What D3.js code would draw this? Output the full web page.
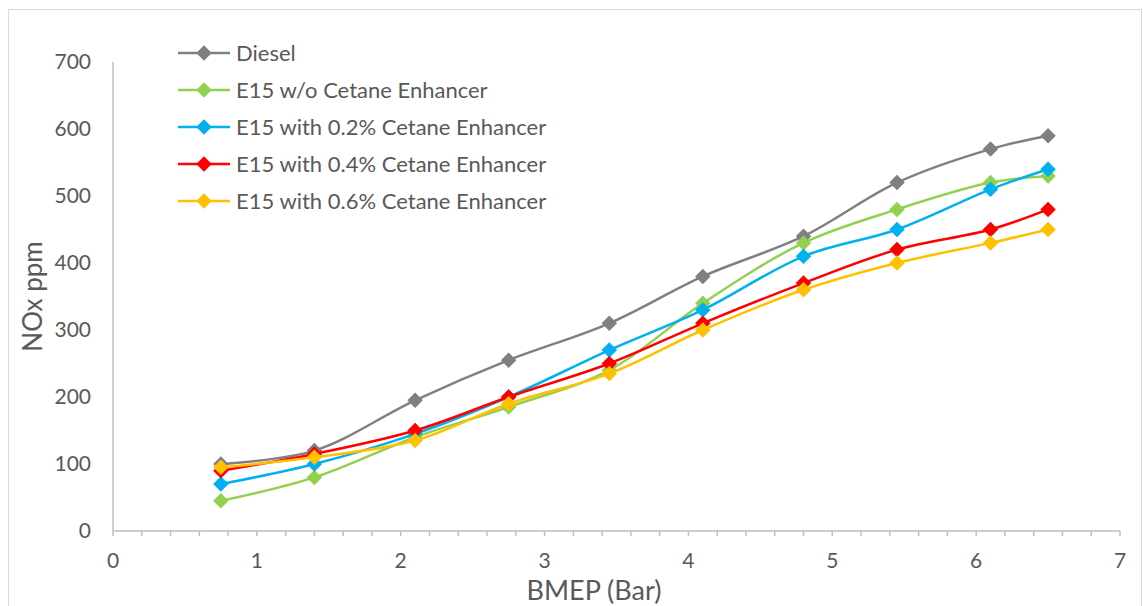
<!DOCTYPE html>
<html>
<head>
<meta charset="utf-8">
<script src="https://cdn.jsdelivr.net/npm/d3@7"></script>
<style>
  body { margin: 0; background: #fff; }
  text { font-family: Lato, "Liberation Sans", sans-serif; fill: #595959; }
</style>
</head>
<body>
<div id="chart"></div>
<script>
var bmep = [0.75, 1.4, 2.1, 2.75, 3.45, 4.1, 4.8, 5.45, 6.1, 6.5];
var diesel = [100, 120, 195, 255, 310, 380, 440, 520, 570, 590];
var e15Plain = [45, 80, 140, 185, 240, 340, 430, 480, 520, 530];
var e15Ce02 = [70, 100, 145, 200, 270, 330, 410, 450, 510, 540];
var e15Ce04 = [90, 115, 150, 200, 250, 310, 370, 420, 450, 480];
var e15Ce06 = [95, 110, 135, 190, 235, 300, 360, 400, 430, 450];
var seriesNames = ["Diesel", "E15 w/o Cetane Enhancer", "E15 with 0.2% Cetane Enhancer",
  "E15 with 0.4% Cetane Enhancer", "E15 with 0.6% Cetane Enhancer"];
var colors = ["#808080", "#92D050", "#00B0F0", "#FF0000", "#FFC000"];
var xTicks = [0, 1, 2, 3, 4, 5, 6, 7];
var yTicks = [0, 100, 200, 300, 400, 500, 600, 700];

var series = [diesel, e15Plain, e15Ce02, e15Ce04, e15Ce06].map((vals, i) => ({
  name: seriesNames[i],
  color: colors[i],
  values: vals.map((v, j) => ({ x: bmep[j], y: v }))
}));

var W = 1143, H = 606;
var margin = { top: 62, right: 23, bottom: 75, left: 113 };
var width = W - margin.left - margin.right;
var height = H - margin.top - margin.bottom;

var svg = d3.select("#chart").append("svg")
  .attr("width", W)
  .attr("height", H);

// chart frame
svg.append("rect")
  .attr("x", 8.5).attr("y", 9.5)
  .attr("width", W - 10).attr("height", H)
  .attr("fill", "none").attr("stroke", "#D9D9D9").attr("stroke-width", 1);

var g = svg.append("g")
  .attr("transform", "translate(" + margin.left + "," + margin.top + ")");

var xScale = d3.scaleLinear().domain([0, 7]).range([0, width]);
var yScale = d3.scaleLinear().domain([0, 700]).range([height, 0]);

// y axis line + labels
g.append("line")
  .attr("x1", 0).attr("x2", 0).attr("y1", 0).attr("y2", height)
  .attr("stroke", "#BFBFBF").attr("stroke-width", 1.5);
g.selectAll(".ylab").data(yTicks).enter().append("text")
  .attr("class", "ylab")
  .attr("x", -22)
  .attr("y", d => yScale(d))
  .attr("dy", "0.35em")
  .attr("text-anchor", "end")
  .style("font-size", "21px")
  .text(d => d);

// x axis with minor ticks
var xAxis = g.append("g")
  .attr("transform", "translate(0," + height + ")");
xAxis.append("line")
  .attr("x1", 0).attr("x2", width)
  .attr("stroke", "#BFBFBF").attr("stroke-width", 1.5);
xAxis.selectAll(".tick").data(d3.range(0, 36).map(i => i * 0.2)).enter().append("line")
  .attr("x1", d => xScale(d)).attr("x2", d => xScale(d))
  .attr("y1", 0).attr("y2", 5)
  .attr("stroke", "#BFBFBF").attr("stroke-width", 1.5);
xAxis.selectAll(".xlab").data(xTicks).enter().append("text")
  .attr("x", d => xScale(d))
  .attr("y", 37)
  .attr("text-anchor", "middle")
  .style("font-size", "21px")
  .text(d => d);

// axis titles
svg.append("text")
  .attr("x", 594)
  .attr("y", 600)
  .attr("text-anchor", "middle")
  .style("font-size", "27px")
  .text("BMEP (Bar)");
svg.append("text")
  .attr("transform", "translate(42," + (margin.top + height / 2) + ") rotate(-90)")
  .attr("text-anchor", "middle")
  .style("font-size", "26px")
  .text("NOx ppm");

var line = d3.line()
  .x(d => xScale(d.x))
  .y(d => yScale(d.y))
  .curve(d3.curveCatmullRom.alpha(0.5));

series.forEach(s => {
  g.append("path")
    .datum(s.values)
    .attr("fill", "none")
    .attr("stroke", s.color)
    .attr("stroke-width", 2.5)
    .attr("d", line);
  g.selectAll(null).data(s.values).enter().append("path")
    .attr("d", d3.symbol().type(d3.symbolSquare).size(120))
    .attr("transform", d => "translate(" + xScale(d.x) + "," + yScale(d.y) + ") rotate(45)")
    .attr("fill", s.color);
});

// legend
var legend = svg.append("g").attr("transform", "translate(178,53)");
var items = legend.selectAll("g").data(series).enter().append("g")
  .attr("transform", (d, i) => "translate(0," + i * 37 + ")");
items.append("line")
  .attr("x1", 0).attr("x2", 52)
  .attr("stroke", d => d.color).attr("stroke-width", 2.5);
items.append("path")
  .attr("d", d3.symbol().type(d3.symbolSquare).size(120))
  .attr("transform", "translate(26,0) rotate(45)")
  .attr("fill", d => d.color);
items.append("text")
  .attr("x", 58)
  .attr("dy", "0.35em")
  .style("font-size", "22px")
  .text(d => d.name);
</script>
</body>
</html>
